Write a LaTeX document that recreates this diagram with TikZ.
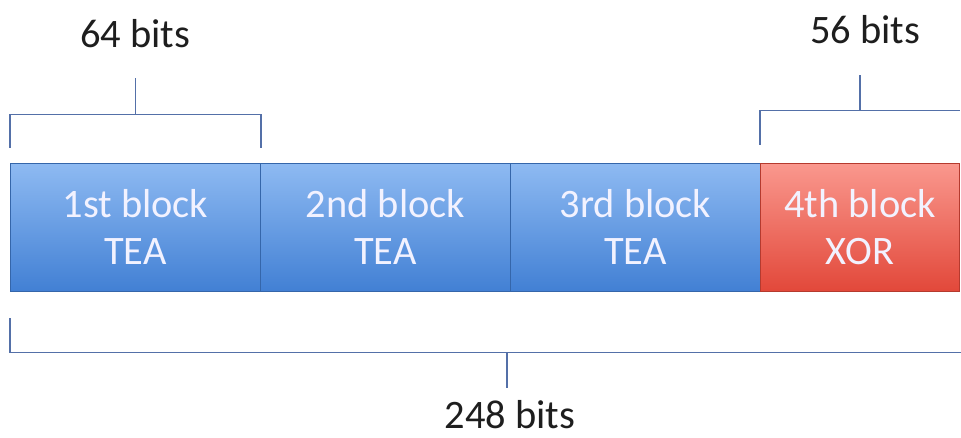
\documentclass[tikz,border=0pt]{standalone}
\usepackage{fontspec}
\setmainfont{Carlito}
\usepackage{tikz}
\usetikzlibrary{positioning,calc}
\definecolor{blocktop}{RGB}{142,186,242}
\definecolor{blockbot}{RGB}{66,128,212}
\definecolor{redtop}{RGB}{250,152,142}
\definecolor{redbot}{RGB}{226,72,58}
\definecolor{bracecol}{RGB}{84,112,168}
\definecolor{labelcol}{RGB}{30,30,30}

\begin{document}
\begin{tikzpicture}[
        block/.style={rectangle, draw=blockbot!80!black, line width=0.4pt, top color=blocktop, bottom color=blockbot, text=white!95!blue, align=center, minimum width=5cm, minimum height=2.56cm, inner sep=0pt, font=\fontsize{23}{27}\selectfont},
        xorblock/.style={block, draw=redbot!80!black, top color=redtop, bottom color=redbot, minimum width=3.98cm},
        brace/.style={line width=0.9pt, bracecol},
        bits/.style={font=\fontsize{23}{27}\selectfont, text=labelcol}
    ]
    \useasboundingbox (0,0) rectangle (19.22,-8.74);
    \node[block] (b1) at (2.71,-4.54) {1st block\\TEA};
    \node[block] (b2) at (7.71,-4.54) {2nd block\\TEA};
    \node[block] (b3) at (12.71,-4.54) {3rd block\\TEA};
    \node[xorblock] (b4) at (17.20,-4.54) {4th block\\XOR};
    % brackets
    \draw[brace] ([yshift=0.3cm]b1.north west) -- ++(0,0.66) -| ([yshift=0.3cm]b1.north east);
    \draw[brace] ([yshift=0.96cm]b1.north) -- ++(0,0.74);
    \draw[brace] ([yshift=0.36cm]b4.north west) -- ++(0,0.68) -- ++(4.0,0);
    \draw[brace] ([yshift=1.04cm]b4.north) -- ++(0,0.72);
    \draw[brace] ([yshift=-0.54cm]b1.south west) -- ++(0,-0.68) -- ++(19.3,0);
    \draw[brace] ($(b1.south west)+(9.94,-1.22)$) -- ++(0,-0.72);
    \node[bits] (w64) at (2.70,-0.68) {64 bits};
    \node[bits] (w56) at (17.30,-0.60) {56 bits};
    \node[bits] (w248) at (10.20,-8.30) {248 bits};
\end{tikzpicture}
\end{document}
